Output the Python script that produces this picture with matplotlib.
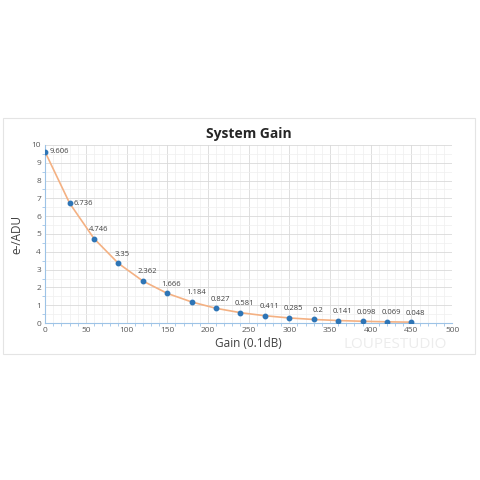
import numpy as np
import matplotlib.pyplot as plt
from matplotlib.patches import Rectangle
from matplotlib.ticker import MultipleLocator

# System gain values (e-/ADU) vs. gain setting (0.1 dB)
gain = [0, 30, 60, 90, 120, 150, 180, 210, 240, 270, 300, 330, 360, 390, 420, 450]
e_per_adu = [9.606, 6.736, 4.746, 3.35, 2.362, 1.666, 1.184, 0.827, 0.581,
             0.411, 0.285, 0.2, 0.141, 0.098, 0.069, 0.048]
labels = ['9.606', '6.736', '4.746', '3.35', '2.362', '1.666', '1.184', '0.827',
          '0.581', '0.411', '0.285', '0.2', '0.141', '0.098', '0.069', '0.048']

plt.rcParams['font.family'] = ['Open Sans', 'DejaVu Sans']

fig = plt.figure(figsize=(4.8, 4.8), dpi=100)
fig.patch.set_facecolor('white')

# faint outer chart border
fig.patches.append(Rectangle((0.006, 0.2625), 0.983, 0.492, transform=fig.transFigure,
                             fill=False, edgecolor='#e4e4e4', linewidth=0.8))

ax = fig.add_axes([0.094, 0.327, 0.848, 0.371])
ax.set_xlim(0, 500)
ax.set_ylim(0, 10)

ax.xaxis.set_major_locator(MultipleLocator(50))
ax.xaxis.set_minor_locator(MultipleLocator(10))
ax.yaxis.set_major_locator(MultipleLocator(1))
ax.yaxis.set_minor_locator(MultipleLocator(0.5))
ax.grid(True, which='major', color='#d9d9d9', linewidth=0.6)
ax.grid(True, which='minor', color='#efefef', linewidth=0.5)
ax.set_axisbelow(True)

for s in ['top', 'right']:
    ax.spines[s].set_visible(False)
for s in ['left', 'bottom']:
    ax.spines[s].set_color('#9dc3e6')
    ax.spines[s].set_linewidth(0.8)

ax.tick_params(which='both', colors='#9dc3e6', labelcolor='#595959', labelsize=6,
               direction='out')
ax.tick_params(which='major', length=0, pad=3)
ax.tick_params(which='minor', length=2)

ax.plot(gain, e_per_adu, color='#f4b183', linewidth=1.2, zorder=2)
ax.plot(gain, e_per_adu, 'o', color='#2e75b6', markersize=3.2, zorder=3)

for i, (x, y, t) in enumerate(zip(gain, e_per_adu, labels)):
    if i < 2:
        ax.annotate(t, (x, y), xytext=(3, 0), textcoords='offset points',
                    ha='left', va='center', fontsize=5.5, color='#404040')
    else:
        ax.annotate(t, (x, y), xytext=(3, 4), textcoords='offset points',
                    ha='center', va='bottom', fontsize=5.5, color='#404040')

ax.set_title('System Gain', fontsize=10, fontweight='bold', color='#262626', pad=5)
ax.set_xlabel('Gain (0.1dB)', fontsize=8.5, color='#404040', labelpad=2)
ax.set_ylabel('e-/ADU', fontsize=8.5, color='#404040', labelpad=6)

fig.text(0.93, 0.282, 'LOUPESTUDIO', fontsize=11, color='#ececec', ha='right', va='center')

plt.savefig('out.png', dpi=100)
